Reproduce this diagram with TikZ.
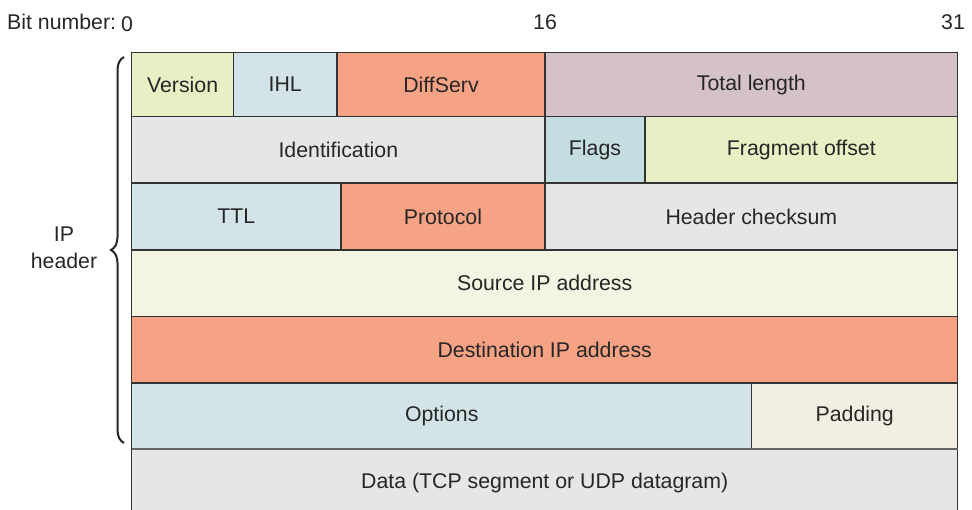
\documentclass[tikz,border=0pt]{standalone}
\usepackage{fontspec}
\setmainfont{Liberation Sans}
\usetikzlibrary{decorations.pathreplacing}
\definecolor{cYel}{HTML}{E8EFC4}
\definecolor{cBlue}{HTML}{D3E4E8}
\definecolor{cSal}{HTML}{F6A285}
\definecolor{cMauve}{HTML}{D4C2C8}
\definecolor{cGray}{HTML}{E5E6E8}
\definecolor{cTeal}{HTML}{C4DDE0}
\definecolor{cPale}{HTML}{F2F5E1}
\definecolor{cCream}{HTML}{F2EFE2}
\definecolor{cLine}{HTML}{333333}
\newcommand\mycell[7]{\node[cellbox, fill=#6, minimum width={(#4-#2)*1pt}, minimum height={(#5-#3)*1pt}] (#1) at ({(#2+#4)/2},{(#3+#5)/2}) {#7};}
\tikzset{
  cellbox/.style={draw=cLine, line width=1.1pt, rectangle, inner sep=0pt, outer sep=0pt, font=\fontsize{21.3}{24}\selectfont, text=black!85},
  lbl/.style={font=\fontsize{21.3}{27}\selectfont, text=black!85, inner sep=0pt},
}
\begin{document}
\begin{tikzpicture}[x=1pt,y=-1pt]
\useasboundingbox (0,0) rectangle (972,510);
% row 1
\mycell{version}{131.7}{52.7}{233.5}{116.5}{cYel}{Version}
\mycell{ihl}{233.5}{52.7}{337}{116.5}{cBlue}{IHL}
\mycell{diffserv}{337}{52.7}{545}{116.5}{cSal}{DiffServ}
\mycell{totlen}{545}{52.7}{957.7}{116.5}{cMauve}{Total length}
% row 2
\mycell{ident}{131.7}{116.5}{545}{183}{cGray}{Identification}
\mycell{flags}{545}{116.5}{645}{183}{cTeal}{Flags}
\mycell{frag}{645}{116.5}{957.7}{183}{cYel}{Fragment offset}
% row 3
\mycell{ttl}{131.7}{183}{341}{250}{cBlue}{TTL}
\mycell{proto}{341}{183}{545}{250}{cSal}{Protocol}
\mycell{chk}{545}{183}{957.7}{250}{cGray}{Header checksum}
% row 4
\mycell{src}{131.7}{250}{957.7}{316.5}{cPale}{Source IP address}
% row 5
\mycell{dst}{131.7}{316.5}{957.7}{383}{cSal}{Destination IP address}
% row 6
\mycell{opts}{131.7}{383}{751.7}{449}{cBlue}{Options}
\mycell{pad}{751.7}{383}{957.7}{449}{cCream}{Padding}
% data
\node[cellbox, fill=cGray, minimum width=826pt, minimum height=66pt, anchor=north west] (data) at (131.7,449) {};
\node[lbl] (datatxt) at (544.7,483) {Data (TCP segment or UDP datagram)};
\draw[draw=black!60, line width=2pt] (opts.south west) -- (pad.south east);
% bit numbers
\node[lbl, anchor=west] (bitnum) at (7,22) {Bit number:};
\node[lbl] (b0) at (127,24) {0};
\node[lbl] (b16) at (545,22) {16};
\node[lbl] (b31) at (953,22) {31};
% brace
\coordinate (bbot) at (124,443);
\coordinate (btop) at (124,57);
\draw[line width=2pt, color=black!85, decorate, decoration={brace, amplitude=13pt}] (bbot) -- (btop);
\node[lbl, align=center] (iph) at (64,248) {IP\\header};
\end{tikzpicture}
\end{document}
